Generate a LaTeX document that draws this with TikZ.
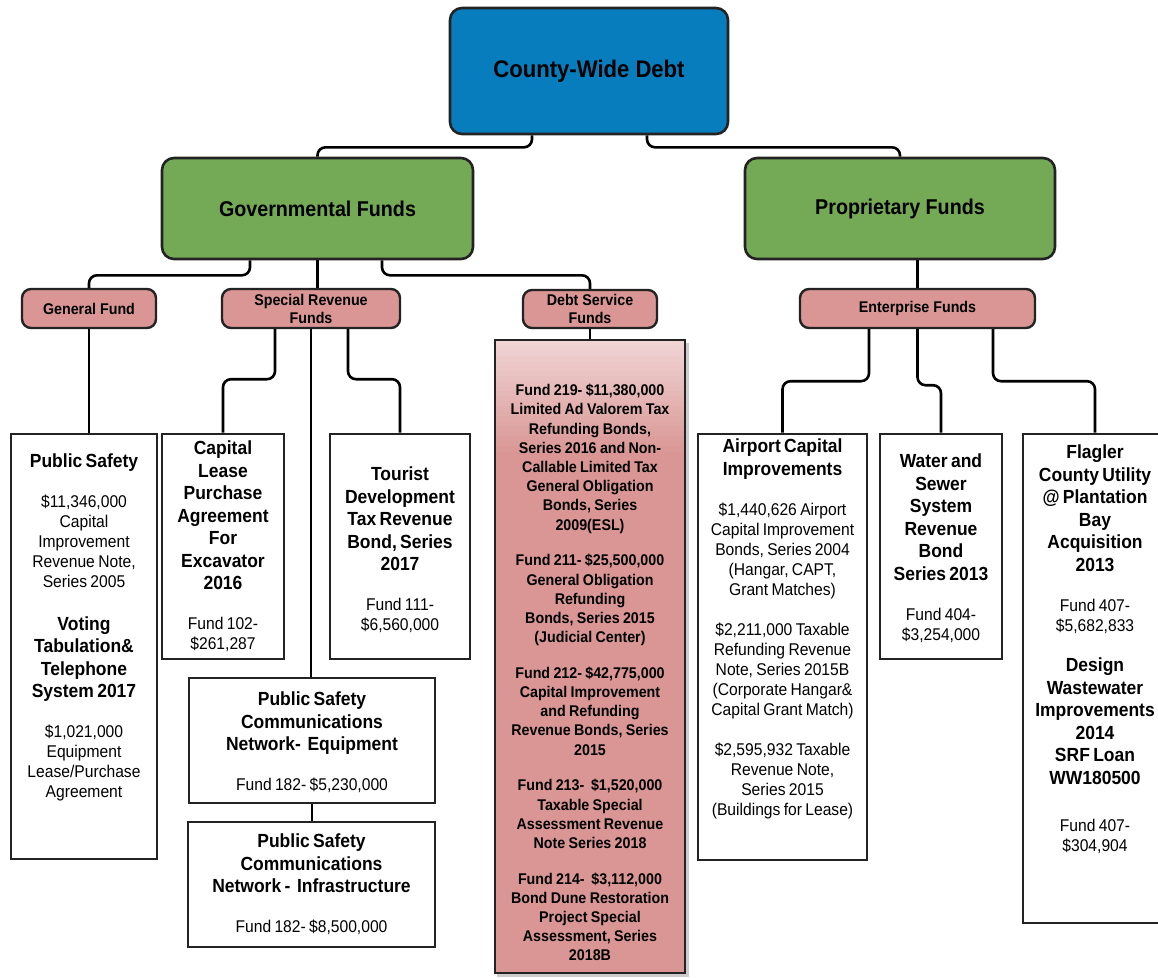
\documentclass[tikz,border=0pt]{standalone}
\usepackage{fontspec}
\setmainfont{Liberation Sans}[FakeStretch=0.92]
\usetikzlibrary{calc}

\definecolor{cwblue}{RGB}{8,125,190}
\definecolor{fundgreen}{RGB}{116,169,86}
\definecolor{fundpink}{RGB}{217,150,148}
\definecolor{palepink}{RGB}{240,212,212}
\definecolor{edgegray}{RGB}{35,35,35}

% text blocks inside the fund boxes
\newcommand\hdline[1]{{\fontsize{19}{22.5}\selectfont\bfseries #1\par}}
\newcommand\txline[1]{{\fontsize{17}{20}\selectfont #1\par}}
\newcommand\gapline{\vspace{20pt}}
\newcommand\dbline[1]{{\fontsize{15.5}{19.2}\selectfont\bfseries #1\par}}
\newcommand\dbgap{\vspace{16.5pt}}

\pgfdeclarelayer{back}
\pgfsetlayers{back,main}

\tikzset{
  topbox/.style={draw=edgegray, line width=2.6pt, rounded corners=12pt, fill=cwblue,
    font=\fontsize{24}{28}\selectfont\bfseries},
  grpbox/.style={draw=edgegray, line width=2.6pt, rounded corners=12pt, fill=fundgreen,
    font=\fontsize{21.4}{25}\selectfont\bfseries},
  subbox/.style={draw=edgegray, line width=2.4pt, rounded corners=9pt, fill=fundpink,
    align=center, inner sep=0pt, font=\fontsize{15.5}{18}\selectfont\bfseries},
  itembox/.style={draw=edgegray, line width=2.6pt, fill=white, inner sep=0pt},
  itemtext/.style={anchor=north, inner sep=0pt, align=center},
  conn/.style={draw=black, line width=2.6pt, rounded corners=8pt},
}

\begin{document}
\begin{tikzpicture}[x=1pt,y=-1pt]
\useasboundingbox (0,0) rectangle (1158,977);
\clip (0,0) rectangle (1158,977);

% top level
\node[topbox, minimum width=278pt, minimum height=126pt] (top) at (589,71) {County-Wide Debt};

% fund groups
\node[grpbox, minimum width=311pt, minimum height=101pt] (gov) at (317.5,208.5) {Governmental Funds};
\node[grpbox, minimum width=310pt, minimum height=101pt] (prop) at (900,208.5) {Proprietary Funds};

% fund types
\node[subbox, minimum width=134pt, minimum height=39pt] (genf) at (89,308.5) {General Fund};
\node[subbox, minimum width=178pt, minimum height=39pt] (srf) at (311,308.5) {Special Revenue\\Funds};
\node[subbox, minimum width=134pt, minimum height=38pt] (dsf) at (590,309) {Debt Service\\Funds};
\node[subbox, minimum width=235pt, minimum height=39pt] (ef) at (917.5,308.5) {Enterprise Funds};

% debt items
\node[itembox, minimum width=146pt, minimum height=425pt] (ps) at (84,646.5) {};
\node[itembox, minimum width=122pt, minimum height=225pt] (cl) at (223,546.5) {};
\node[itembox, minimum width=140pt, minimum height=225pt] (tour) at (400,546.5) {};
\node[itembox, minimum width=246pt, minimum height=125pt] (pse) at (312,740.5) {};
\node[itembox, minimum width=247pt, minimum height=125pt] (psi) at (311.5,884.5) {};

% debt service box: soft shadow, pink fill fading lighter towards the top
\fill[black!20] (497,343) rectangle (688.5,977);
\node[itembox, fill=fundpink, outer sep=0pt, minimum width=190pt, minimum height=633pt] (debt) at (590,656.5) {};
\foreach \i in {0,...,21}{
  \pgfmathsetmacro\pct{100-\i*100/22}
  \fill[palepink!\pct!fundpink] (496.3,341.3+\i*5) rectangle (683.7,346.6+\i*5);
}
\draw[edgegray, line width=2.6pt] (debt.north west) rectangle (debt.south east);

\node[itembox, minimum width=169pt, minimum height=426pt] (air) at (782.5,647) {};
\node[itembox, minimum width=122pt, minimum height=225pt] (water) at (941,546.5) {};
\node[itembox, minimum width=144pt, minimum height=489pt] (flag) at (1095,678.5) {};

% box texts
\node[itemtext, text width=140pt] (pst) at ([yshift=-21pt]ps.north) {%
  \hdline{Public Safety}\gapline
  \txline{\$11,346,000\\Capital\\Improvement\\Revenue Note,\\Series 2005}\gapline
  \hdline{Voting\\Tabulation\&\\Telephone\\System 2017}\gapline
  \txline{\$1,021,000\\Equipment\\Lease/Purchase\\Agreement}};

\node[itemtext, text width=118pt] (clt) at ([yshift=-8pt]cl.north) {%
  \hdline{Capital\\Lease\\Purchase\\Agreement\\For\\Excavator\\2016}\gapline
  \txline{Fund 102-\\\$261,287}};

\node[itemtext, text width=134pt] (tourt) at ([yshift=-34pt]tour.north) {%
  \hdline{Tourist\\Development\\Tax Revenue\\Bond, Series\\2017}\gapline
  \txline{Fund 111-\\\$6,560,000}};

\node[itemtext, text width=240pt] (pset) at ([yshift=-15pt]pse.north) {%
  \hdline{Public Safety\\Communications\\Network-~ Equipment}\gapline
  \txline{Fund 182- \$5,230,000}};

\node[itemtext, text width=240pt] (psit) at ([yshift=-13pt]psi.north) {%
  \hdline{Public Safety\\Communications\\Network -~ Infrastructure}\gapline
  \txline{Fund 182- \$8,500,000}};

\node[itemtext, text width=186pt] (debtt) at ([yshift=-44pt]debt.north) {%
  \dbline{Fund 219- \$11,380,000\\Limited Ad Valorem Tax\\Refunding Bonds,\\Series 2016 and Non-\\Callable Limited Tax\\General Obligation\\Bonds, Series\\2009(ESL)}\dbgap
  \dbline{Fund 211- \$25,500,000\\General Obligation\\Refunding\\Bonds, Series 2015\\(Judicial Center)}\dbgap
  \dbline{Fund 212- \$42,775,000\\Capital Improvement\\and Refunding\\Revenue Bonds, Series\\2015}\dbgap
  \dbline{Fund 213-~ \$1,520,000\\Taxable Special\\Assessment Revenue\\Note Series 2018}\dbgap
  \dbline{Fund 214-~ \$3,112,000\\Bond Dune Restoration\\Project Special\\Assessment, Series\\2018B}};

\node[itemtext, text width=164pt] (airt) at ([yshift=-6pt]air.north) {%
  \hdline{Airport Capital\\Improvements}\gapline
  \txline{\$1,440,626 Airport\\Capital Improvement\\Bonds, Series 2004\\(Hangar, CAPT,\\Grant Matches)}\gapline
  \txline{\$2,211,000 Taxable\\Refunding Revenue\\Note, Series 2015B\\(Corporate Hangar\&\\Capital Grant Match)}\gapline
  \txline{\$2,595,932 Taxable\\Revenue Note,\\Series 2015\\(Buildings for Lease)}};

\node[itemtext, text width=118pt] (watert) at ([yshift=-21pt]water.north) {%
  \hdline{Water and\\Sewer\\System\\Revenue\\Bond\\Series 2013}\gapline
  \txline{Fund 404-\\\$3,254,000}};

\node[itemtext, text width=140pt] (flagt) at ([yshift=-12pt]flag.north) {%
  \hdline{Flagler\\County Utility\\@ Plantation\\Bay\\Acquisition\\2013}\gapline
  \txline{Fund 407-\\\$5,682,833}\vspace{18pt}
  \hdline{Design\\Wastewater\\Improvements\\2014\\SRF Loan\\WW180500}\vspace{27pt}
  \txline{Fund 407-\\\$304,904}};

% connectors
\begin{pgfonlayer}{back}
  \draw[conn] ([xshift=-57pt]top.south) -- ++(0,12) -| (gov.north);
  \draw[conn] ([xshift=58pt]top.south) -- ++(0,12) -| (prop.north);

  \draw[conn] ([xshift=-67.5pt]gov.south) -- ++(0,15) -| (genf.north);
  \draw[conn] (gov.south) -- (gov.south |- srf.north);
  \draw[conn] ([xshift=64.5pt]gov.south) -- ++(0,15) -| (dsf.north);
  \draw[conn] (prop.south -| ef.north) -- (ef.north);

  \draw[conn] (genf.south) -- (genf.south |- ps.north);
  \draw[conn] ([xshift=-36pt]srf.south) -- ++(0,50) -| (cl.north);
  \draw[conn] (srf.south) -- (srf.south |- pse.north);
  \draw[conn] ([xshift=37pt]srf.south) -- ++(0,50) -| (tour.north);
  \draw[conn] (pse.south) -- (pse.south |- psi.north);
  \draw[conn] (dsf.south) -- (dsf.south |- debt.north);

  \draw[conn] ([xshift=-48.5pt]ef.south) -- ++(0,52) -| (air.north);
  \draw[conn] (ef.south) -- ++(0,56) -| (water.north);
  \draw[conn] ([xshift=75.5pt]ef.south) -- ++(0,52) -| (flag.north);
\end{pgfonlayer}
\end{tikzpicture}
\end{document}
